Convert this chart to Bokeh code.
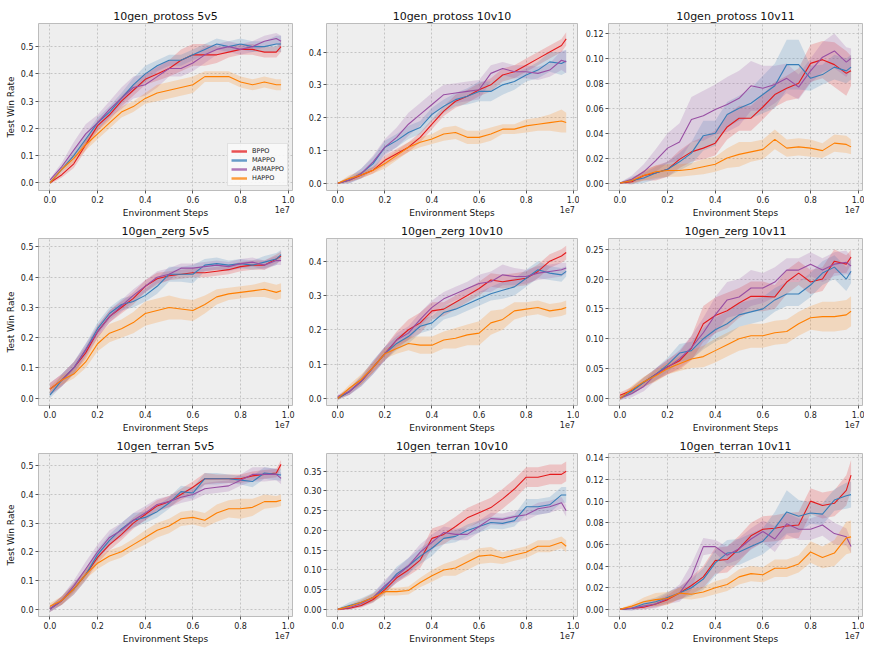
from bokeh.plotting import figure
from bokeh.layouts import gridplot
from bokeh.models import Range1d, FixedTicker, PrintfTickFormatter, Legend, LegendItem, LinearAxis
from bokeh.embed import file_html
from bokeh.resources import INLINE

# Environment steps (x 1e7)
X = [0.0, 0.05, 0.1, 0.15, 0.2, 0.25, 0.3, 0.35, 0.4, 0.45, 0.5,
     0.55, 0.6, 0.65, 0.7, 0.75, 0.8, 0.85, 0.9, 0.95, 0.97]

ALGOS = ["BPPO", "MAPPO", "ARMAPPO", "HAPPO"]
COLORS = ["#e41a1c", "#377eb8", "#984ea3", "#ff7f00"]

# ---- 10gen_protoss 5v5 ----
p5_bppo = [0.0, 0.03, 0.07, 0.14, 0.21, 0.25, 0.30, 0.34, 0.38, 0.40, 0.42, 0.45, 0.47, 0.47, 0.47, 0.48, 0.49, 0.49, 0.48, 0.48, 0.50]
p5_mappo = [0.0, 0.05, 0.10, 0.16, 0.22, 0.26, 0.31, 0.36, 0.40, 0.43, 0.45, 0.45, 0.47, 0.49, 0.51, 0.50, 0.51, 0.50, 0.50, 0.51, 0.51]
p5_armappo = [0.01, 0.06, 0.12, 0.18, 0.22, 0.27, 0.31, 0.35, 0.36, 0.39, 0.42, 0.42, 0.44, 0.47, 0.49, 0.50, 0.49, 0.50, 0.52, 0.53, 0.52]
p5_happo = [0.0, 0.05, 0.09, 0.14, 0.18, 0.22, 0.26, 0.28, 0.31, 0.33, 0.34, 0.35, 0.36, 0.39, 0.39, 0.39, 0.37, 0.36, 0.37, 0.36, 0.36]
p5_bppo_sd = [0.005, 0.01, 0.015, 0.02, 0.02, 0.02, 0.02, 0.02, 0.02, 0.025, 0.03, 0.04, 0.04, 0.04, 0.03, 0.02, 0.02, 0.02, 0.02, 0.02, 0.02]
p5_mappo_sd = [0.005, 0.01, 0.015, 0.02, 0.02, 0.02, 0.02, 0.025, 0.03, 0.02, 0.02, 0.02, 0.02, 0.02, 0.02, 0.02, 0.02, 0.02, 0.02, 0.03, 0.03]
p5_armappo_sd = [0.005, 0.015, 0.03, 0.035, 0.03, 0.03, 0.04, 0.04, 0.04, 0.04, 0.03, 0.03, 0.03, 0.03, 0.02, 0.02, 0.02, 0.02, 0.02, 0.02, 0.02]
p5_happo_sd = [0.005, 0.01, 0.015, 0.02, 0.02, 0.02, 0.02, 0.02, 0.02, 0.03, 0.03, 0.03, 0.03, 0.02, 0.02, 0.02, 0.02, 0.02, 0.02, 0.02, 0.02]

# ---- 10gen_protoss 10v10 ----
p10_bppo = [0.0, 0.01, 0.025, 0.04, 0.07, 0.09, 0.11, 0.14, 0.18, 0.22, 0.25, 0.265, 0.285, 0.30, 0.33, 0.34, 0.36, 0.38, 0.40, 0.42, 0.44]
p10_mappo = [0.0, 0.01, 0.03, 0.06, 0.11, 0.13, 0.155, 0.17, 0.21, 0.235, 0.255, 0.265, 0.28, 0.28, 0.30, 0.31, 0.33, 0.345, 0.37, 0.365, 0.373]
p10_armappo = [0.0, 0.01, 0.03, 0.065, 0.11, 0.14, 0.18, 0.21, 0.24, 0.27, 0.275, 0.28, 0.285, 0.335, 0.35, 0.34, 0.34, 0.335, 0.345, 0.375, 0.37]
p10_happo = [0.0, 0.015, 0.025, 0.04, 0.06, 0.085, 0.11, 0.125, 0.135, 0.15, 0.155, 0.14, 0.14, 0.15, 0.165, 0.165, 0.175, 0.18, 0.185, 0.19, 0.185]
p10_bppo_sd = [0.002, 0.005, 0.01, 0.01, 0.015, 0.015, 0.015, 0.015, 0.015, 0.015, 0.02, 0.02, 0.02, 0.02, 0.02, 0.02, 0.02, 0.02, 0.02, 0.02, 0.02]
p10_mappo_sd = [0.002, 0.01, 0.015, 0.02, 0.02, 0.02, 0.02, 0.02, 0.02, 0.02, 0.02, 0.025, 0.03, 0.03, 0.03, 0.025, 0.02, 0.025, 0.03, 0.035, 0.035]
p10_armappo_sd = [0.002, 0.01, 0.015, 0.02, 0.025, 0.03, 0.035, 0.035, 0.035, 0.03, 0.03, 0.03, 0.03, 0.025, 0.02, 0.02, 0.02, 0.02, 0.02, 0.03, 0.035]
p10_happo_sd = [0.002, 0.01, 0.01, 0.01, 0.015, 0.015, 0.015, 0.015, 0.015, 0.02, 0.02, 0.02, 0.02, 0.02, 0.015, 0.015, 0.02, 0.02, 0.025, 0.035, 0.03]

# ---- 10gen_protoss 10v11 ----
p11_bppo = [0.0, 0.001, 0.006, 0.008, 0.011, 0.019, 0.025, 0.028, 0.032, 0.045, 0.052, 0.052, 0.061, 0.071, 0.076, 0.080, 0.096, 0.099, 0.095, 0.088, 0.090]
p11_mappo = [0.0, 0.002, 0.004, 0.008, 0.011, 0.017, 0.024, 0.038, 0.040, 0.055, 0.060, 0.064, 0.071, 0.078, 0.095, 0.095, 0.084, 0.087, 0.093, 0.090, 0.093]
p11_armappo = [0.0, 0.003, 0.009, 0.018, 0.028, 0.033, 0.051, 0.054, 0.059, 0.063, 0.068, 0.078, 0.076, 0.079, 0.084, 0.077, 0.090, 0.101, 0.106, 0.097, 0.100]
p11_happo = [0.0, 0.002, 0.006, 0.009, 0.010, 0.010, 0.011, 0.013, 0.015, 0.020, 0.023, 0.025, 0.027, 0.035, 0.028, 0.029, 0.028, 0.026, 0.032, 0.031, 0.029]
p11_bppo_sd = [0.0005, 0.002, 0.004, 0.006, 0.006, 0.007, 0.008, 0.009, 0.01, 0.01, 0.01, 0.01, 0.01, 0.01, 0.01, 0.012, 0.015, 0.015, 0.018, 0.018, 0.012]
p11_mappo_sd = [0.0005, 0.003, 0.004, 0.005, 0.006, 0.007, 0.009, 0.012, 0.01, 0.01, 0.01, 0.012, 0.015, 0.018, 0.02, 0.02, 0.01, 0.008, 0.01, 0.01, 0.01]
p11_armappo_sd = [0.0005, 0.003, 0.006, 0.009, 0.012, 0.015, 0.018, 0.02, 0.02, 0.022, 0.022, 0.02, 0.018, 0.015, 0.012, 0.01, 0.01, 0.012, 0.014, 0.012, 0.008]
p11_happo_sd = [0.0005, 0.002, 0.004, 0.005, 0.005, 0.005, 0.005, 0.006, 0.006, 0.008, 0.01, 0.008, 0.008, 0.008, 0.007, 0.007, 0.007, 0.006, 0.007, 0.007, 0.006]

# ---- 10gen_zerg 5v5 ----
z5_bppo = [0.03, 0.06, 0.10, 0.15, 0.22, 0.27, 0.30, 0.33, 0.37, 0.395, 0.405, 0.41, 0.415, 0.415, 0.42, 0.425, 0.435, 0.44, 0.44, 0.46, 0.47]
z5_mappo = [0.01, 0.06, 0.10, 0.16, 0.23, 0.28, 0.31, 0.32, 0.34, 0.37, 0.41, 0.41, 0.41, 0.44, 0.445, 0.44, 0.445, 0.44, 0.45, 0.46, 0.475]
z5_armappo = [0.03, 0.06, 0.10, 0.16, 0.22, 0.27, 0.305, 0.34, 0.37, 0.40, 0.41, 0.43, 0.43, 0.435, 0.44, 0.435, 0.445, 0.45, 0.44, 0.455, 0.455]
z5_happo = [0.03, 0.06, 0.08, 0.12, 0.18, 0.215, 0.23, 0.25, 0.28, 0.29, 0.30, 0.295, 0.29, 0.31, 0.335, 0.345, 0.35, 0.355, 0.36, 0.35, 0.355]
z5_bppo_sd = [0.02, 0.02, 0.02, 0.02, 0.02, 0.02, 0.02, 0.02, 0.02, 0.02, 0.015, 0.015, 0.015, 0.015, 0.015, 0.015, 0.015, 0.015, 0.015, 0.015, 0.015]
z5_mappo_sd = [0.01, 0.02, 0.02, 0.02, 0.02, 0.02, 0.02, 0.02, 0.02, 0.025, 0.025, 0.025, 0.03, 0.02, 0.02, 0.015, 0.015, 0.015, 0.02, 0.02, 0.015]
z5_armappo_sd = [0.02, 0.02, 0.02, 0.02, 0.02, 0.02, 0.02, 0.02, 0.02, 0.02, 0.02, 0.015, 0.015, 0.015, 0.015, 0.015, 0.015, 0.015, 0.015, 0.015, 0.015]
z5_happo_sd = [0.01, 0.015, 0.015, 0.02, 0.025, 0.03, 0.03, 0.035, 0.04, 0.04, 0.04, 0.035, 0.035, 0.03, 0.025, 0.02, 0.02, 0.02, 0.025, 0.025, 0.025]

# ---- 10gen_zerg 10v10 ----
z10_bppo = [0.0, 0.02, 0.05, 0.09, 0.13, 0.17, 0.20, 0.22, 0.255, 0.26, 0.28, 0.30, 0.32, 0.345, 0.34, 0.345, 0.35, 0.37, 0.40, 0.415, 0.425]
z10_mappo = [0.0, 0.02, 0.05, 0.09, 0.13, 0.16, 0.18, 0.21, 0.22, 0.25, 0.26, 0.275, 0.29, 0.305, 0.315, 0.325, 0.35, 0.375, 0.365, 0.36, 0.37]
z10_armappo = [0.005, 0.02, 0.05, 0.09, 0.13, 0.17, 0.19, 0.23, 0.265, 0.29, 0.305, 0.32, 0.335, 0.34, 0.36, 0.355, 0.355, 0.365, 0.37, 0.375, 0.38]
z10_happo = [0.0, 0.03, 0.055, 0.09, 0.13, 0.145, 0.16, 0.155, 0.155, 0.17, 0.175, 0.185, 0.19, 0.22, 0.23, 0.255, 0.26, 0.265, 0.255, 0.26, 0.265]
z10_bppo_sd = [0.005, 0.01, 0.01, 0.015, 0.02, 0.025, 0.03, 0.03, 0.025, 0.02, 0.02, 0.02, 0.02, 0.02, 0.02, 0.02, 0.02, 0.02, 0.02, 0.02, 0.02]
z10_mappo_sd = [0.005, 0.01, 0.015, 0.02, 0.02, 0.02, 0.02, 0.02, 0.02, 0.02, 0.02, 0.02, 0.02, 0.02, 0.025, 0.025, 0.025, 0.025, 0.02, 0.02, 0.015]
z10_armappo_sd = [0.005, 0.01, 0.015, 0.02, 0.02, 0.02, 0.02, 0.02, 0.02, 0.02, 0.02, 0.02, 0.025, 0.03, 0.03, 0.025, 0.02, 0.02, 0.02, 0.02, 0.015]
z10_happo_sd = [0.005, 0.01, 0.015, 0.015, 0.015, 0.015, 0.02, 0.025, 0.025, 0.025, 0.03, 0.03, 0.035, 0.035, 0.03, 0.025, 0.02, 0.02, 0.02, 0.02, 0.02]

# ---- 10gen_zerg 10v11 ----
z11_bppo = [0.005, 0.013, 0.027, 0.04, 0.053, 0.063, 0.084, 0.125, 0.139, 0.147, 0.160, 0.171, 0.171, 0.170, 0.195, 0.210, 0.195, 0.200, 0.230, 0.225, 0.237]
z11_mappo = [0.0, 0.012, 0.027, 0.04, 0.056, 0.076, 0.08, 0.10, 0.115, 0.125, 0.14, 0.145, 0.15, 0.165, 0.175, 0.175, 0.19, 0.21, 0.22, 0.20, 0.213]
z11_armappo = [0.0, 0.008, 0.02, 0.04, 0.052, 0.066, 0.085, 0.110, 0.140, 0.165, 0.170, 0.185, 0.185, 0.195, 0.215, 0.215, 0.225, 0.215, 0.225, 0.228, 0.222]
z11_happo = [0.0, 0.015, 0.028, 0.038, 0.05, 0.058, 0.066, 0.07, 0.08, 0.09, 0.10, 0.105, 0.105, 0.11, 0.112, 0.125, 0.135, 0.137, 0.137, 0.14, 0.146]
z11_bppo_sd = [0.005, 0.006, 0.008, 0.01, 0.012, 0.015, 0.02, 0.03, 0.03, 0.03, 0.025, 0.025, 0.025, 0.02, 0.02, 0.02, 0.02, 0.02, 0.02, 0.015, 0.012]
z11_mappo_sd = [0.003, 0.006, 0.008, 0.01, 0.012, 0.015, 0.015, 0.018, 0.02, 0.02, 0.02, 0.02, 0.02, 0.02, 0.02, 0.02, 0.02, 0.02, 0.02, 0.02, 0.02]
z11_armappo_sd = [0.003, 0.006, 0.008, 0.01, 0.012, 0.015, 0.02, 0.025, 0.03, 0.03, 0.03, 0.03, 0.025, 0.025, 0.02, 0.02, 0.02, 0.02, 0.02, 0.02, 0.015]
z11_happo_sd = [0.003, 0.006, 0.008, 0.01, 0.01, 0.012, 0.015, 0.018, 0.02, 0.02, 0.02, 0.02, 0.02, 0.02, 0.02, 0.02, 0.02, 0.025, 0.025, 0.025, 0.025]

# ---- 10gen_terran 5v5 ----
t5_bppo = [0.0, 0.03, 0.07, 0.12, 0.18, 0.225, 0.26, 0.30, 0.33, 0.36, 0.375, 0.40, 0.425, 0.455, 0.455, 0.455, 0.455, 0.465, 0.47, 0.475, 0.505]
t5_mappo = [0.0, 0.03, 0.07, 0.12, 0.19, 0.24, 0.28, 0.31, 0.32, 0.34, 0.37, 0.41, 0.405, 0.455, 0.455, 0.455, 0.45, 0.445, 0.475, 0.47, 0.468]
t5_armappo = [0.0, 0.03, 0.08, 0.14, 0.20, 0.25, 0.275, 0.31, 0.335, 0.365, 0.375, 0.39, 0.40, 0.42, 0.425, 0.43, 0.45, 0.47, 0.47, 0.47, 0.456]
t5_happo = [0.01, 0.03, 0.07, 0.12, 0.16, 0.185, 0.20, 0.225, 0.25, 0.275, 0.29, 0.315, 0.32, 0.31, 0.335, 0.35, 0.35, 0.355, 0.375, 0.375, 0.38]
t5_bppo_sd = [0.01, 0.015, 0.02, 0.02, 0.02, 0.02, 0.02, 0.02, 0.02, 0.02, 0.02, 0.02, 0.02, 0.02, 0.015, 0.015, 0.015, 0.015, 0.015, 0.015, 0.015]
t5_mappo_sd = [0.01, 0.015, 0.02, 0.02, 0.02, 0.02, 0.02, 0.025, 0.02, 0.02, 0.02, 0.02, 0.02, 0.02, 0.02, 0.015, 0.015, 0.02, 0.02, 0.02, 0.02]
t5_armappo_sd = [0.01, 0.015, 0.02, 0.025, 0.025, 0.025, 0.025, 0.025, 0.025, 0.02, 0.02, 0.02, 0.02, 0.02, 0.02, 0.02, 0.02, 0.025, 0.025, 0.02, 0.02]
t5_happo_sd = [0.01, 0.015, 0.015, 0.015, 0.02, 0.02, 0.02, 0.02, 0.025, 0.025, 0.025, 0.025, 0.025, 0.025, 0.03, 0.03, 0.035, 0.03, 0.025, 0.02, 0.02]

# ---- 10gen_terran 10v10 ----
t10_bppo = [0.0, 0.003, 0.01, 0.025, 0.05, 0.08, 0.10, 0.125, 0.18, 0.19, 0.21, 0.232, 0.245, 0.258, 0.28, 0.305, 0.335, 0.335, 0.342, 0.342, 0.35]
t10_mappo = [0.0, 0.01, 0.018, 0.03, 0.055, 0.09, 0.11, 0.135, 0.155, 0.18, 0.185, 0.20, 0.21, 0.22, 0.218, 0.225, 0.26, 0.26, 0.265, 0.29, 0.29]
t10_armappo = [0.0, 0.005, 0.015, 0.03, 0.06, 0.085, 0.11, 0.145, 0.17, 0.195, 0.19, 0.19, 0.21, 0.23, 0.228, 0.235, 0.24, 0.255, 0.26, 0.27, 0.25]
t10_happo = [0.0, 0.008, 0.018, 0.03, 0.045, 0.045, 0.048, 0.068, 0.085, 0.10, 0.105, 0.12, 0.135, 0.138, 0.13, 0.138, 0.145, 0.16, 0.16, 0.17, 0.16]
t10_bppo_sd = [0.002, 0.003, 0.005, 0.008, 0.01, 0.012, 0.015, 0.02, 0.025, 0.025, 0.025, 0.025, 0.025, 0.025, 0.025, 0.025, 0.025, 0.025, 0.025, 0.025, 0.025]
t10_mappo_sd = [0.002, 0.008, 0.01, 0.012, 0.015, 0.018, 0.02, 0.02, 0.02, 0.015, 0.015, 0.015, 0.015, 0.015, 0.015, 0.015, 0.02, 0.02, 0.02, 0.02, 0.02]
t10_armappo_sd = [0.002, 0.005, 0.008, 0.01, 0.015, 0.018, 0.02, 0.02, 0.02, 0.015, 0.015, 0.015, 0.015, 0.015, 0.015, 0.015, 0.015, 0.015, 0.015, 0.015, 0.015]
t10_happo_sd = [0.002, 0.005, 0.008, 0.01, 0.01, 0.01, 0.01, 0.012, 0.015, 0.015, 0.02, 0.02, 0.02, 0.02, 0.015, 0.015, 0.015, 0.015, 0.015, 0.015, 0.015]

# ---- 10gen_terran 10v11 ----
t11_bppo = [0.0, 0.001, 0.002, 0.005, 0.009, 0.015, 0.022, 0.03, 0.045, 0.046, 0.056, 0.068, 0.074, 0.075, 0.077, 0.078, 0.10, 0.096, 0.098, 0.11, 0.124]
t11_mappo = [0.0, 0.001, 0.005, 0.007, 0.011, 0.015, 0.02, 0.028, 0.043, 0.052, 0.053, 0.058, 0.063, 0.075, 0.09, 0.086, 0.089, 0.088, 0.101, 0.105, 0.106]
t11_armappo = [0.0, 0.001, 0.003, 0.005, 0.01, 0.015, 0.03, 0.058, 0.058, 0.05, 0.056, 0.065, 0.072, 0.065, 0.079, 0.074, 0.074, 0.078, 0.07, 0.067, 0.058]
t11_happo = [0.0, 0.003, 0.007, 0.009, 0.01, 0.015, 0.014, 0.016, 0.02, 0.023, 0.03, 0.033, 0.032, 0.038, 0.038, 0.042, 0.053, 0.048, 0.052, 0.066, 0.067]
t11_bppo_sd = [0.0005, 0.001, 0.002, 0.003, 0.004, 0.006, 0.008, 0.01, 0.012, 0.012, 0.012, 0.012, 0.012, 0.012, 0.012, 0.012, 0.012, 0.012, 0.012, 0.014, 0.014]
t11_mappo_sd = [0.0005, 0.002, 0.003, 0.004, 0.005, 0.006, 0.008, 0.01, 0.012, 0.012, 0.012, 0.012, 0.012, 0.015, 0.02, 0.015, 0.01, 0.01, 0.01, 0.012, 0.012]
t11_armappo_sd = [0.0005, 0.002, 0.003, 0.004, 0.005, 0.008, 0.012, 0.008, 0.006, 0.008, 0.01, 0.01, 0.01, 0.012, 0.01, 0.01, 0.01, 0.01, 0.01, 0.008, 0.006]
t11_happo_sd = [0.0005, 0.002, 0.004, 0.006, 0.006, 0.005, 0.005, 0.005, 0.006, 0.006, 0.007, 0.007, 0.007, 0.008, 0.008, 0.008, 0.01, 0.01, 0.012, 0.015, 0.015]

PANELS = [
    ("10gen_protoss 5v5", [p5_bppo, p5_mappo, p5_armappo, p5_happo],
     [p5_bppo_sd, p5_mappo_sd, p5_armappo_sd, p5_happo_sd], (-0.028, 0.585), [0, 0.1, 0.2, 0.3, 0.4, 0.5], "%.1f"),
    ("10gen_protoss 10v10", [p10_bppo, p10_mappo, p10_armappo, p10_happo],
     [p10_bppo_sd, p10_mappo_sd, p10_armappo_sd, p10_happo_sd], (-0.022, 0.487), [0, 0.1, 0.2, 0.3, 0.4], "%.1f"),
    ("10gen_protoss 10v11", [p11_bppo, p11_mappo, p11_armappo, p11_happo],
     [p11_bppo_sd, p11_mappo_sd, p11_armappo_sd, p11_happo_sd], (-0.006, 0.128), [0, 0.02, 0.04, 0.06, 0.08, 0.10, 0.12], "%.2f"),
    ("10gen_zerg 5v5", [z5_bppo, z5_mappo, z5_armappo, z5_happo],
     [z5_bppo_sd, z5_mappo_sd, z5_armappo_sd, z5_happo_sd], (-0.024, 0.528), [0, 0.1, 0.2, 0.3, 0.4, 0.5], "%.1f"),
    ("10gen_zerg 10v10", [z10_bppo, z10_mappo, z10_armappo, z10_happo],
     [z10_bppo_sd, z10_mappo_sd, z10_armappo_sd, z10_happo_sd], (-0.021, 0.466), [0, 0.1, 0.2, 0.3, 0.4], "%.1f"),
    ("10gen_zerg 10v11", [z11_bppo, z11_mappo, z11_armappo, z11_happo],
     [z11_bppo_sd, z11_mappo_sd, z11_armappo_sd, z11_happo_sd], (-0.012, 0.268), [0, 0.05, 0.10, 0.15, 0.20, 0.25], "%.2f"),
    ("10gen_terran 5v5", [t5_bppo, t5_mappo, t5_armappo, t5_happo],
     [t5_bppo_sd, t5_mappo_sd, t5_armappo_sd, t5_happo_sd], (-0.026, 0.543), [0, 0.1, 0.2, 0.3, 0.4, 0.5], "%.1f"),
    ("10gen_terran 10v10", [t10_bppo, t10_mappo, t10_armappo, t10_happo],
     [t10_bppo_sd, t10_mappo_sd, t10_armappo_sd, t10_happo_sd], (-0.018, 0.395), [0, 0.05, 0.10, 0.15, 0.20, 0.25, 0.30, 0.35], "%.2f"),
    ("10gen_terran 10v11", [t11_bppo, t11_mappo, t11_armappo, t11_happo],
     [t11_bppo_sd, t11_mappo_sd, t11_armappo_sd, t11_happo_sd], (-0.0066, 0.144), [0, 0.02, 0.04, 0.06, 0.08, 0.10, 0.12, 0.14], "%.2f"),
]
X_TICKS = [0.0, 0.2, 0.4, 0.6, 0.8, 1.0]
SCALE_TICK = [0.975]

FONT = "DejaVu Sans"
WIDTHS = [300, 279, 285]
LEFTS = [38, 23, 29]
RIGHTS = [8, 2, 2]
HEIGHTS = [220, 215, 211]
TOPS = [23, 18, 18]
BOTTOMS = [30, 30, 26]


def style_axis(ax):
    ax.axis_line_color = None
    ax.major_tick_line_color = "#555555"
    ax.major_tick_out = 3
    ax.major_tick_in = 0
    ax.minor_tick_line_color = None
    ax.major_label_text_font = FONT
    ax.major_label_text_font_size = "8px"
    ax.major_label_text_color = "#222222"
    ax.major_label_standoff = 2
    ax.axis_label_text_font = FONT
    ax.axis_label_text_font_style = "normal"
    ax.axis_label_text_font_size = "9px"
    ax.axis_label_text_color = "#111111"
    ax.axis_label_standoff = 2


def make_panel(i):
    title, means, sds, yr, yt, fmt = PANELS[i]
    row, col = divmod(i, 3)
    p = figure(width=WIDTHS[col], height=HEIGHTS[row],
               x_range=Range1d(-0.048, 1.018), y_range=Range1d(*yr),
               output_backend="svg", toolbar_location=None,
               min_border_left=LEFTS[col], min_border_right=RIGHTS[col],
               min_border_top=TOPS[row], min_border_bottom=BOTTOMS[row])
    p.background_fill_color = "#eeeeee"
    p.border_fill_color = "white"
    p.outline_line_color = "#bcbcbc"
    p.outline_line_width = 1
    p.title.text = title
    p.title.align = "center"
    p.title.text_font = FONT
    p.title.text_font_style = "normal"
    p.title.text_font_size = "11px"
    p.title.text_color = "#111111"
    p.title.standoff = 2
    p.title.offset = 0
    style_axis(p.xaxis[0])
    style_axis(p.yaxis[0])
    p.xaxis[0].ticker = FixedTicker(ticks=X_TICKS)
    p.xaxis[0].formatter = PrintfTickFormatter(format="%.1f")
    p.yaxis[0].ticker = FixedTicker(ticks=yt)
    p.yaxis[0].formatter = PrintfTickFormatter(format=fmt)
    if col == 0:
        p.yaxis[0].axis_label = "Test Win Rate"

    # second bottom axis carrying the "1e7" offset text and the axis title
    sx = LinearAxis(ticker=FixedTicker(ticks=SCALE_TICK),
                    major_label_overrides={SCALE_TICK[0]: "1e7"})
    style_axis(sx)
    sx.major_tick_line_color = None
    sx.major_tick_out = 0
    sx.major_label_standoff = 0
    sx.axis_label = "Environment Steps"
    sx.axis_label_standoff = -8
    p.add_layout(sx, "below")

    for g in (p.xgrid[0], p.ygrid[0]):
        g.grid_line_color = "#b2b2b2"
        g.grid_line_dash = "2 2"
        g.grid_line_width = 0.7

    for k in range(4):
        m = means[k]
        s = sds[k]
        lo = [a - b for a, b in zip(m, s)]
        hi = [a + b for a, b in zip(m, s)]
        p.varea(x=X, y1=lo, y2=hi, fill_color=COLORS[k], fill_alpha=0.2)
    lines = []
    for k in range(4):
        lines.append(p.line(X, means[k], line_color=COLORS[k], line_width=1.1))

    if i == 0:
        items = []
        for k in range(4):
            # legend handle: a thicker, softer copy of the series line, kept out of view
            h = p.line([X[0] - 5, X[1] - 5], [means[k][0] - 5, means[k][1] - 5],
                       line_color=COLORS[k], line_width=2.5, line_alpha=0.75)
            items.append(LegendItem(label=ALGOS[k], renderers=[h]))
        leg = Legend(items=items, location="bottom_right")
        leg.label_text_font = FONT
        leg.label_text_font_size = "6.5px"
        leg.label_text_color = "#222222"
        leg.label_height = 8
        leg.glyph_height = 8
        leg.glyph_width = 16
        leg.spacing = 1
        leg.padding = 3
        leg.margin = 4
        leg.label_standoff = 5
        leg.background_fill_color = "#f8f8f8"
        leg.background_fill_alpha = 0.9
        leg.border_line_color = "#cccccc"
        p.add_layout(leg)
    return p


figs = [make_panel(i) for i in range(9)]
grid = gridplot([figs[0:3], figs[3:6], figs[6:9]], toolbar_location=None)

open("out.html", "w").write(file_html(grid, INLINE))
